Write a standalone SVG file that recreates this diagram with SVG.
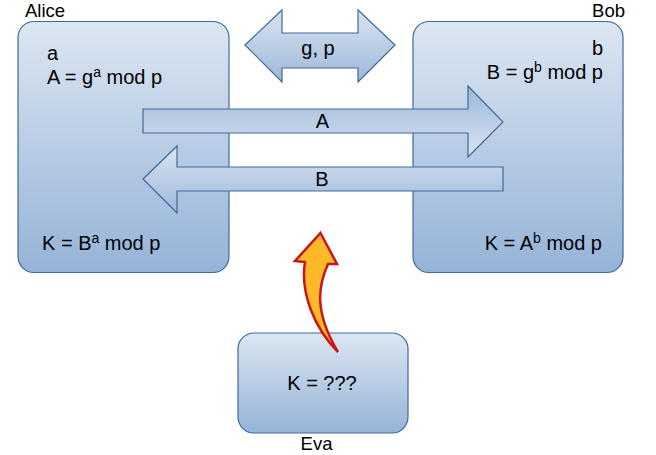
<svg xmlns="http://www.w3.org/2000/svg" width="656" height="455" viewBox="0 0 656 455">
<style>
.box{stroke:#3E6A9C;stroke-width:1.2;fill:url(#gb)}
.arr{stroke:#3E6A9C;stroke-width:1.2}
.t{font-family:"Liberation Sans",Arial,sans-serif;font-size:20px;fill:#000}
.lbl{font-family:"Liberation Sans",Arial,sans-serif;font-size:18.5px;fill:#000}
.sup{font-size:14px}
</style>
<defs>
<linearGradient id="gb" x1="0" y1="0" x2="0" y2="1">
<stop offset="0" stop-color="#DCE6F2"/>
<stop offset="1" stop-color="#95B3D7"/>
</linearGradient>
<linearGradient id="gdown" x1="0" y1="0" x2="0" y2="1">
<stop offset="0" stop-color="#DAE4F1"/>
<stop offset="1" stop-color="#9CB8DA"/>
</linearGradient>
<linearGradient id="gup" x1="0" y1="0" x2="0" y2="1">
<stop offset="0" stop-color="#9CB8DA"/>
<stop offset="0.5" stop-color="#BACDE5"/>
<stop offset="1" stop-color="#DAE4F1"/>
</linearGradient>
</defs>
<g id="alice">
<rect class="box" x="18" y="21.5" width="211" height="251" rx="16"/>
<text class="lbl" x="25" y="17.3">Alice</text>
<text class="t" x="47" y="60">a</text>
<text class="t" x="47" y="84">A = g<tspan class="sup" dy="-7">a</tspan><tspan dy="7"> mod p</tspan></text>
<text class="t" x="42" y="250">K = B<tspan class="sup" dy="-7">a</tspan><tspan dy="7"> mod p</tspan></text>
</g>
<g id="bob">
<rect class="box" x="413" y="21.5" width="210" height="251" rx="16"/>
<text class="lbl" x="625" y="17.3" text-anchor="end">Bob</text>
<text class="t" x="603" y="54.5" text-anchor="end">b</text>
<text class="t" x="603" y="79" text-anchor="end">B = g<tspan class="sup" dy="-7">b</tspan><tspan dy="7"> mod p</tspan></text>
<text class="t" x="602" y="250" text-anchor="end">K = A<tspan class="sup" dy="-7">b</tspan><tspan dy="7"> mod p</tspan></text>
</g>
<g id="eva">
<rect class="box" x="238" y="333" width="170" height="100" rx="16"/>
<text class="t" x="322" y="390" text-anchor="middle">K = ???</text>
<text class="lbl" x="316.5" y="450" text-anchor="middle">Eva</text>
</g>
<g id="connectors">
<g id="gp">
<path class="arr" fill="url(#gdown)" d="M245,45 L282,10 L282,33 L358,33 L358,10 L395,45 L358,82 L358,68 L282,68 L282,82 Z"/>
<text class="t" x="318" y="55" text-anchor="middle">g, p</text>
</g>
<g id="arrA">
<path class="arr" fill="url(#gup)" d="M143,109 L468,109 L468,86 L503,122 L468,157 L468,133 L143,133 Z"/>
<text class="t" x="322.5" y="127.5" text-anchor="middle">A</text>
</g>
<g id="arrB">
<path class="arr" fill="url(#gdown)" d="M143,179 L177,146 L177,167 L503,167 L503,191 L177,191 L177,213 Z"/>
<text class="t" x="322" y="186" text-anchor="middle">B</text>
</g>
<g id="eve-arrow">
<path d="M320.5,233 L337,264 L328,264 C318,286 314,312 338,352 C314,328 300,292 305,262 L295,261 Z" fill="#FDB927" stroke="#C8161B" stroke-width="2.5" stroke-linejoin="miter"/>
</g>
</g>
</svg>
